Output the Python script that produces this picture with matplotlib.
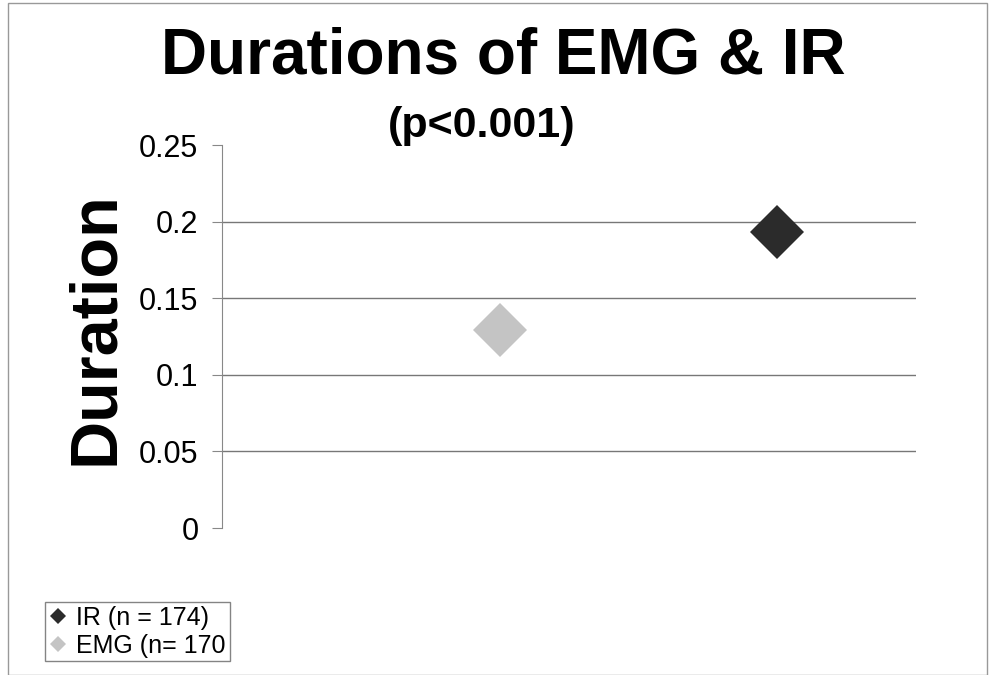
import matplotlib
matplotlib.use("Agg")
import matplotlib.pyplot as plt
from matplotlib.patches import Rectangle

plt.rcParams['font.family'] = ['Liberation Sans', 'DejaVu Sans']

series = ["IR (n = 174)", "EMG (n= 170"]
x_pos = [2, 1]
durations = [0.193, 0.129]
colors = ["#2b2b2b", "#c4c4c4"]
yticks = [0, 0.05, 0.1, 0.15, 0.2, 0.25]
ytick_labels = ["0", "0.05", "0.1", "0.15", "0.2", "0.25"]

fig = plt.figure(figsize=(9.9, 6.75), dpi=100)
fig.patches.append(Rectangle((8/990, 0), 979/990, 1 - 3/675, transform=fig.transFigure,
                             fill=False, edgecolor="#999999", linewidth=1))

ax = fig.add_axes([222/990, 1 - 528/675, (916 - 222)/990, (528 - 145)/675])
for name, xv, yv, c in zip(series, x_pos, durations, colors):
    ax.plot([xv], [yv], marker='D', markersize=27, color=c, linestyle='none', label=name,
            markeredgewidth=0)

ax.set_xlim(0, 2.5)
ax.set_ylim(0, 0.25)
ax.set_yticks(yticks)
ax.set_yticklabels(ytick_labels, fontsize=22)
ax.set_xticks([])
for s in ['top', 'right', 'bottom']:
    ax.spines[s].set_visible(False)
ax.spines['left'].set_color('#888888')
ax.tick_params(axis='y', length=7, color='#888888', pad=10)
ax.grid(axis='y', color='#777777', linewidth=1)
gl = ax.get_ygridlines()
gl[0].set_visible(False)
gl[-1].set_visible(False)
ax.set_axisbelow(True)

fig.text(96/990, 1 - 328/675, "Duration", fontsize=48, fontweight='bold',
         rotation=90, ha='center', va='center')

fig.text(503/990, 1 - 57/675, "Durations of EMG & IR", fontsize=46, fontweight='bold',
         ha='center', va='center')
fig.text(482/990, 1 - 126/675, "(p<0.001)", fontsize=31, fontweight='bold',
         ha='center', va='center')

leg = ax.legend(loc='upper left', bbox_to_anchor=(45/990, 1 - 602/675),
                bbox_transform=fig.transFigure, fontsize=18, frameon=True, fancybox=False,
                markerscale=0.31, handlelength=0.7, handletextpad=0.4, borderpad=0.15,
                labelspacing=0.15, borderaxespad=0)
leg.get_frame().set_edgecolor('#666666')
leg.get_frame().set_linewidth(1)

fig.savefig("out.png", dpi=100)
